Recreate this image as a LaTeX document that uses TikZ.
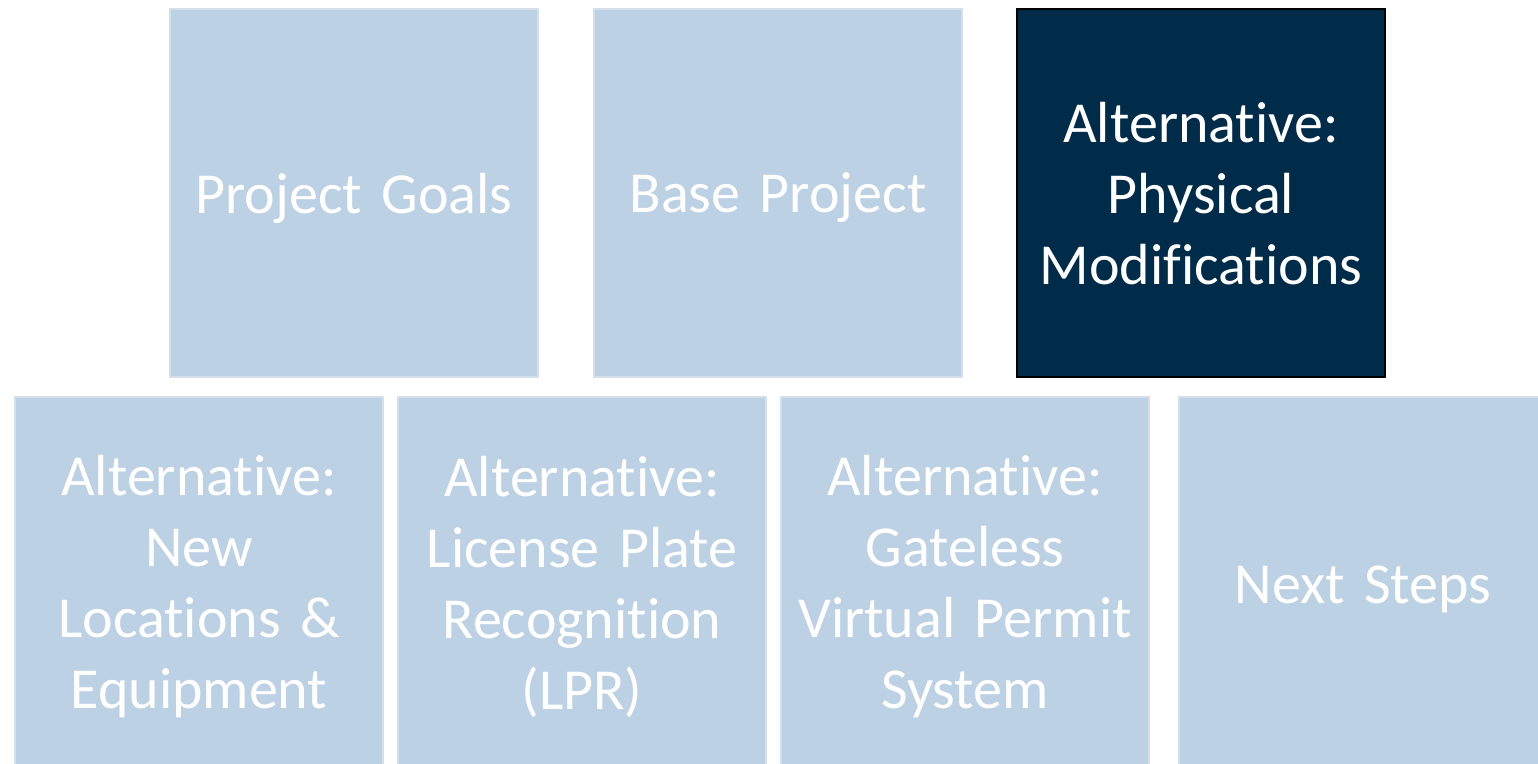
\documentclass[tikz,border=0pt]{standalone}
\usepackage{fontspec}
\setmainfont{Carlito}[RawFeature={-liga;-clig;-dlig;-calt}, WordSpace=0.85]
\definecolor{tilefill}{HTML}{BDD1E4}
\definecolor{tileedge}{HTML}{D3E0EC}
\definecolor{activefill}{HTML}{002B49}
\begin{document}
\begin{tikzpicture}[x=1pt,y=-1pt,
  tile/.style={draw=tileedge, line width=2pt, fill=tilefill,
    minimum width=368pt, anchor=north west, inner sep=0pt},
  tiletext/.style={text=white, inner sep=0pt,
    font=\fontsize{58}{71}\selectfont, align=center, text width=350pt},
  toptile/.style={tile, minimum height=368pt},
  bottile/.style={tile, minimum height=376pt},
  active/.style={draw=black, fill=activefill}]
\useasboundingbox (0,0) rectangle (1538,763);
\begin{scope}
\clip (0,0) rectangle (1538,763);
% upper row
\node[toptile, label={[tiletext, yshift=-5pt]center:Project Goals}] (goals) at (169,8) {};
\node[toptile, label={[tiletext, yshift=-5pt]center:Base Project}] (base) at (593,8) {};
\node[toptile, active, label={[tiletext, yshift=-1pt]center:{Alternative:\\Physical\\Modifications}}] (phys) at (1016,8) {};
% lower row
\node[bottile, label={[tiletext, yshift=-2pt]center:{Alternative:\\New\\Locations \&\\Equipment}}] (newloc) at (14,396) {};
\node[bottile, label={[tiletext, yshift=-2pt]center:{Alternative:\\License Plate\\Recognition\\(LPR)}}] (lpr) at (397,396) {};
\node[bottile, label={[tiletext, yshift=-2pt]center:{Alternative:\\Gateless\\Virtual Permit\\System}}] (gateless) at (780,396) {};
\node[bottile, label={[tiletext, yshift=-4pt]center:Next Steps}] (next) at (1178,396) {};
\end{scope}
\end{tikzpicture}
\end{document}
